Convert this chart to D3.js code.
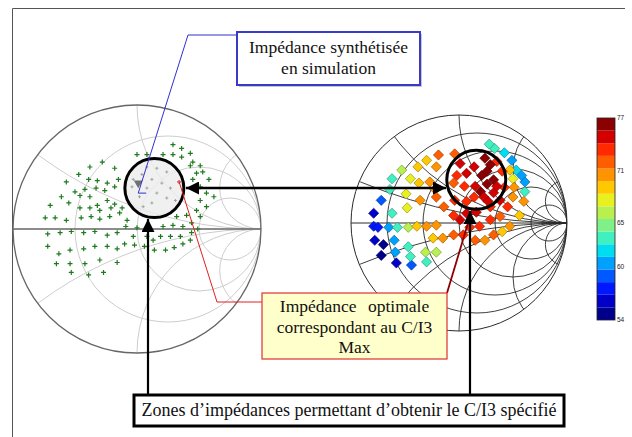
<!DOCTYPE html>
<html><head><meta charset="utf-8">
<script src="https://cdn.jsdelivr.net/npm/d3@7"></script>
<style>body{margin:0;background:#fff}svg{display:block}</style>
</head><body>
<svg id="c" width="632" height="437"></svg>
<script>
// ---- data ----
const leftRes = [1/3, 1, 3];
const leftReact = [1/3, 1, 3];
const rightRes = [0.2, 0.5, 1, 2, 5];
const rightReact = [0.2, 0.5, 1, 2, 5];
// green + markers (reflection coefficient re, im)
const leftPts = [[0.29,0.68],[0.36,0.65],[0.43,0.61],[0.29,0.60],[0.36,0.58],[0.00,0.60],[0.08,0.60],[0.21,0.60],[0.45,0.54],[0.51,0.51],[0.43,0.51],[0.53,0.46],[0.48,0.45],[0.45,0.40],[0.58,0.40],[0.51,0.34],[0.56,0.29],[0.62,0.26],[0.51,0.23],[0.56,0.18],[0.48,0.15],[0.40,0.11],[0.51,0.10],[0.32,0.10],[0.44,0.05],
[-0.28,0.54],[-0.18,0.49],[-0.38,0.50],[-0.47,0.44],[-0.57,0.38],[-0.39,0.40],[-0.32,0.39],[-0.24,0.37],[-0.15,0.40],[-0.50,0.30],[-0.42,0.32],[-0.33,0.33],[-0.26,0.31],[-0.18,0.34],[-0.61,0.26],[-0.46,0.27],[-0.38,0.26],[-0.32,0.19],[-0.24,0.23],[-0.18,0.20],[-0.70,0.19],[-0.55,0.21],[-0.46,0.17],[-0.38,0.17],[-0.30,0.15],[-0.21,0.17],[-0.12,0.17],[-0.74,0.09],[-0.66,0.09],[-0.57,0.07],[-0.45,0.09],[-0.37,0.10],[-0.30,0.08],[-0.22,0.10],[-0.14,0.13],[-0.08,0.07],
[-0.72,-0.04],[-0.62,-0.03],[-0.53,-0.02],[-0.43,-0.03],[-0.34,-0.02],[-0.24,-0.05],[-0.16,-0.03],[-0.09,0.02],[0.00,0.01],[-0.03,-0.06],[0.08,-0.06],[0.13,-0.09],[0.19,-0.06],[0.27,-0.06],[0.35,-0.06],[0.44,-0.03],[0.49,0.00],[0.10,0.01],[0.21,0.02],[0.29,0.03],[0.37,0.02],
[-0.72,-0.14],[-0.63,-0.20],[-0.54,-0.17],[-0.43,-0.16],[-0.34,-0.14],[-0.24,-0.14],[-0.16,-0.16],[-0.10,-0.12],[-0.02,-0.13],[0.06,-0.14],[0.14,-0.17],[0.23,-0.17],[0.30,-0.15],[0.37,-0.12],[0.43,-0.09],[-0.65,-0.28],[-0.54,-0.28],[-0.42,-0.28],[-0.30,-0.25],[-0.16,-0.27],[-0.53,-0.35],[-0.39,-0.37],[-0.27,-0.35]];
// dimmed markers inside the highlighted zone
const leftInner = [[0.08,0.50],[0.16,0.49],[0.24,0.46],[0.04,0.44],[0.12,0.40],[0.20,0.37],[0.27,0.33],[0.08,0.33],[0.16,0.29],[0.24,0.25],[0.02,0.26],[0.12,0.21],[0.05,0.18],[0.31,0.23],[-0.04,0.34],[-0.03,0.40]];
// simulated and optimal impedances (left chart)
const simPt = [0.01, 0.37];
const optPt = [0.34, 0.38];
const zoneL = [0.14, 0.33];
const zoneR = [0.16, 0.40];
// right chart: [re, im, C/I3]
const rightPts = [[-0.79,0.09,56],[-0.72,0.21,59],[-0.79,-0.03,58],[-0.75,-0.04,57],[-0.78,-0.16,56],[-0.70,-0.20,55],[-0.72,-0.30,55],[-0.58,-0.37,56],[-0.44,-0.39,59],[-0.65,-0.04,61],[-0.62,0.09,63],[-0.64,0.31,64],[-0.62,0.41,64],[-0.53,0.49,66],[-0.45,0.41,67],[-0.49,0.27,67],[-0.48,0.14,67],[-0.57,-0.04,64],[-0.47,-0.04,66],[-0.60,-0.16,61],[-0.59,-0.27,60],[-0.47,-0.22,63],[-0.45,-0.31,63],[-0.30,-0.36,63],
[-0.38,0.52,69],[-0.30,0.58,69],[-0.21,0.52,71],[-0.19,0.63,72],[-0.04,0.64,72],[-0.37,0.37,69],[-0.27,0.38,71],[-0.22,0.31,71],[-0.36,0.21,70],[-0.21,0.24,72],[-0.14,0.15,72],[-0.39,-0.03,69],[-0.30,-0.03,70],[-0.21,-0.02,71],[-0.05,0.07,73],[-0.31,-0.27,66],[-0.21,-0.27,66],[-0.24,-0.14,69],[-0.15,-0.14,71],[-0.05,-0.11,72],[0.04,-0.11,73],[0.15,-0.16,72],[0.24,-0.16,71],[0.32,-0.11,72],[0.40,-0.08,69],[0.47,-0.03,70],[0.56,0.07,69],[0.60,0.20,71],[0.61,0.29,63],[0.61,0.38,60],[0.58,0.44,60],[0.53,0.49,62],[0.49,0.58,60],[0.42,0.65,62],[0.33,0.69,63],[0.28,0.73,64],[0.47,0.49,69],[0.50,0.41,68],[0.51,0.33,70],[0.50,0.24,71],[0.45,0.15,73],[0.38,0.06,72],[0.29,0.03,73],[0.19,-0.03,74],[0.10,-0.04,73],[0.01,0.03,75],[0.07,0.09,75],[0.16,0.10,75],[0.29,0.15,74],[0.38,0.21,75],[0.42,0.33,74],[0.40,0.48,74],[0.35,0.57,73],
[0.01,0.55,75],[0.14,0.52,75],[0.24,0.60,77],[0.29,0.54,77],[0.26,0.48,77],[0.21,0.44,76],[0.32,0.40,76],[0.26,0.36,76],[0.15,0.34,75],[0.05,0.34,74],[-0.05,0.37,72],[-0.02,0.44,73],[0.07,0.46,75],[0.20,0.29,76],[0.32,0.28,75],[0.23,0.24,75],[0.14,0.24,74],[0.07,0.20,74],[-0.04,0.21,73],[0.27,0.20,75],[0.35,0.34,75]];
const cbTicks = [54, 60, 65, 71, 77];
const cbColors = ["#00008c","#0000c8","#0018ff","#0058ff","#00a0ff","#00dcf0","#40f0c0","#80f088","#b8f050","#e8f020","#ffc800","#ff9400","#ff5e00","#ff2a00","#d40000","#8b0000"];
const labels = {
  synth: ["Impédance synthétisée", "en simulation"],
  optim: ["Impédance optimale", "correspondant au C/I3", "Max"],
  zones: "Zones d\u2019impédances permettant d\u2019obtenir le C/I3 spécifié"
};

const svg = d3.select("#c");
svg.append("defs").html(`
 <marker id="ah" viewBox="0 0 10 10" refX="10" refY="5" markerWidth="15" markerHeight="13" markerUnits="userSpaceOnUse" orient="auto-start-reverse"><path d="M0,0L10,5L0,10Z" fill="#000"/></marker>`);

// frame
svg.append("path").attr("d","M12.5,437V8.5H625").attr("fill","none").attr("stroke","#555").attr("stroke-width",1);

function smith(id, cx, cy, R, resV, reactV, gridCol, gridW, outerCol, outerW, axisCol, axisW) {
  const x = d3.scaleLinear().domain([-1,1]).range([cx-R, cx+R]);
  const y = d3.scaleLinear().domain([-1,1]).range([cy+R, cy-R]);
  const g = svg.append("g");
  g.append("clipPath").attr("id", id).append("circle").attr("cx",cx).attr("cy",cy).attr("r",R);
  const gc = g.append("g").attr("clip-path",`url(#${id})`);
  resV.forEach(r => {
    gc.append("circle").attr("cx", x(r/(1+r))).attr("cy", y(0)).attr("r", x(1/(1+r)) - x(0))
      .attr("fill","none").attr("stroke",gridCol).attr("stroke-width",gridW);
  });
  reactV.forEach(v => {
    [v,-v].forEach(s => {
      gc.append("circle").attr("cx", x(1)).attr("cy", y(1/s)).attr("r", x(1/Math.abs(s)) - x(0))
        .attr("fill","none").attr("stroke",gridCol).attr("stroke-width",gridW);
    });
  });
  g.append("line").attr("x1",x(-1)).attr("x2",x(1)).attr("y1",y(0)).attr("y2",y(0)).attr("stroke",axisCol).attr("stroke-width",axisW);
  g.append("circle").attr("cx",cx).attr("cy",cy).attr("r",R).attr("fill","none").attr("stroke",outerCol).attr("stroke-width",outerW);
  return {x, y, g};
}

// ---- left chart ----
const L = smith("clipL", 137, 229, 124, leftRes, leftReact, "#cdcdcd", 1, "#666", 1.3, "#666", 1.3);
svg.append("circle").attr("cx", L.x(zoneL[0])).attr("cy", L.y(zoneL[1])).attr("r", 29.5).attr("fill","#ececec").attr("fill-opacity",0.8);
const plus = (g, px, py, s, col, w) => g.append("path").attr("d",`M${px-s},${py}H${px+s}M${px},${py-s}V${py+s}`).attr("stroke",col).attr("stroke-width",w).attr("fill","none");
leftPts.forEach(d => plus(svg, L.x(d[0]), L.y(d[1]), 2.5, "#1f7a1f", 1.2));
leftInner.forEach(d => plus(svg, L.x(d[0]), L.y(d[1]), 1.5, "#9aa89a", 1));
svg.append("path").attr("d", d3.symbol(d3.symbolTriangle, 34)()).attr("transform",`translate(${L.x(simPt[0])},${L.y(simPt[1])}) rotate(180)`).attr("fill","#707070");
plus(svg, L.x(optPt[0]), L.y(optPt[1]), 2, "#e06060", 1.6);
svg.append("circle").attr("cx", L.x(zoneL[0])).attr("cy", L.y(zoneL[1])).attr("r", 29.5).attr("fill","none").attr("stroke","#000").attr("stroke-width",3);

// ---- right chart ----
const Rc = smith("clipR", 459, 223, 108, rightRes, rightReact, "#2a2a2a", 0.9, "#2a2a2a", 1, "#2a2a2a", 1);
const cMin = cbTicks[0], cMax = cbTicks[cbTicks.length-1];
const colorQ = d3.scaleQuantize().domain([cMin, cMax]).range(cbColors);
rightPts.forEach(d => {
  const c = colorQ(d[2]);
  svg.append("rect").attr("x",-3.6).attr("y",-3.6).attr("width",7.2).attr("height",7.2)
    .attr("transform",`translate(${Rc.x(d[0])},${Rc.y(d[1])}) rotate(45)`)
    .attr("fill", c).attr("stroke", d3.color(c).darker(1.5)).attr("stroke-width",0.6);
});
svg.append("circle").attr("cx", Rc.x(zoneR[0])).attr("cy", Rc.y(zoneR[1])).attr("r", 29.5).attr("fill","none").attr("stroke","#000").attr("stroke-width",3);

// ---- colorbar ----
const cbX = 597, cbW = 18;
const cy = d3.scaleLinear().domain([cMin, cMax]).range([320, 118]);
const band = (cMax - cMin) / cbColors.length;
cbColors.forEach((c, i) => {
  svg.append("rect").attr("x", cbX).attr("width", cbW)
    .attr("y", cy(cMin + (i+1)*band)).attr("height", cy(cMin + i*band) - cy(cMin + (i+1)*band)).attr("fill", c);
});
svg.append("rect").attr("x",cbX).attr("y",118).attr("width",cbW).attr("height",202).attr("fill","none").attr("stroke","#222").attr("stroke-width",0.8);
cbTicks.forEach(t => svg.append("text").attr("x", cbX+cbW+2).attr("y", cy(t)+2).text(t)
  .attr("font-family","Liberation Sans, Arial").attr("font-size",6.5).attr("fill","#222"));

// ---- annotations ----
const serif = "Liberation Serif, Times New Roman, serif";
// blue leader
svg.append("path").attr("d",`M237,35H188L${L.x(simPt[0])},${L.y(simPt[1])+10}H${L.x(simPt[0])+8}`).attr("fill","none").attr("stroke","#3030d0").attr("stroke-width",1);
svg.append("rect").attr("x",239).attr("y",34).attr("width",183).attr("height",53).attr("fill","#c8c8c8");
svg.append("rect").attr("x",237).attr("y",32).attr("width",183).attr("height",53).attr("fill","#fff").attr("stroke","#3a3ac8").attr("stroke-width",2);
labels.synth.forEach((t,i) => svg.append("text").attr("x",328.5).attr("y",53+i*21).attr("text-anchor","middle").attr("font-family",serif).attr("font-size",17.5).attr("fill","#111").text(t));

// red leaders
svg.append("path").attr("d",`M262,302H217L${L.x(optPt[0])},${L.y(optPt[1])}`).attr("fill","none").attr("stroke","#e02020").attr("stroke-width",1);
svg.append("path").attr("d",`M447,293L${Rc.x(0.12)},${Rc.y(0.12)}`).attr("fill","none").attr("stroke","#8b0000").attr("stroke-width",1.8);
svg.append("rect").attr("x",262).attr("y",293).attr("width",185).attr("height",66).attr("fill","#ffffcc").attr("stroke","#e03030").attr("stroke-width",1.2);
labels.optim.forEach((t,i) => svg.append("text").attr("x",354.5).attr("y",312+i*20.5).attr("text-anchor","middle").attr("font-family",serif).attr("font-size",17.5).attr("fill","#111").attr("word-spacing", i===0?7:0).text(t));

// arrows
svg.append("line").attr("x1", 186).attr("y1",188).attr("x2",446).attr("y2",188).attr("stroke","#000").attr("stroke-width",2.5)
  .attr("marker-start","url(#ah)").attr("marker-end","url(#ah)");
svg.append("line").attr("x1",148).attr("y1",395).attr("x2",148).attr("y2",219).attr("stroke","#000").attr("stroke-width",2.2).attr("marker-end","url(#ah)");
svg.append("line").attr("x1",470).attr("y1",395).attr("x2",470).attr("y2",211).attr("stroke","#000").attr("stroke-width",2.2).attr("marker-end","url(#ah)");

// bottom box
svg.append("rect").attr("x",134).attr("y",395).attr("width",430).attr("height",31).attr("fill","#fff").attr("stroke","#000").attr("stroke-width",3);
svg.append("text").attr("x",349).attr("y",416).attr("text-anchor","middle").attr("font-family",serif).attr("font-size",18).attr("fill","#111").text(labels.zones);
</script>
</body></html>
